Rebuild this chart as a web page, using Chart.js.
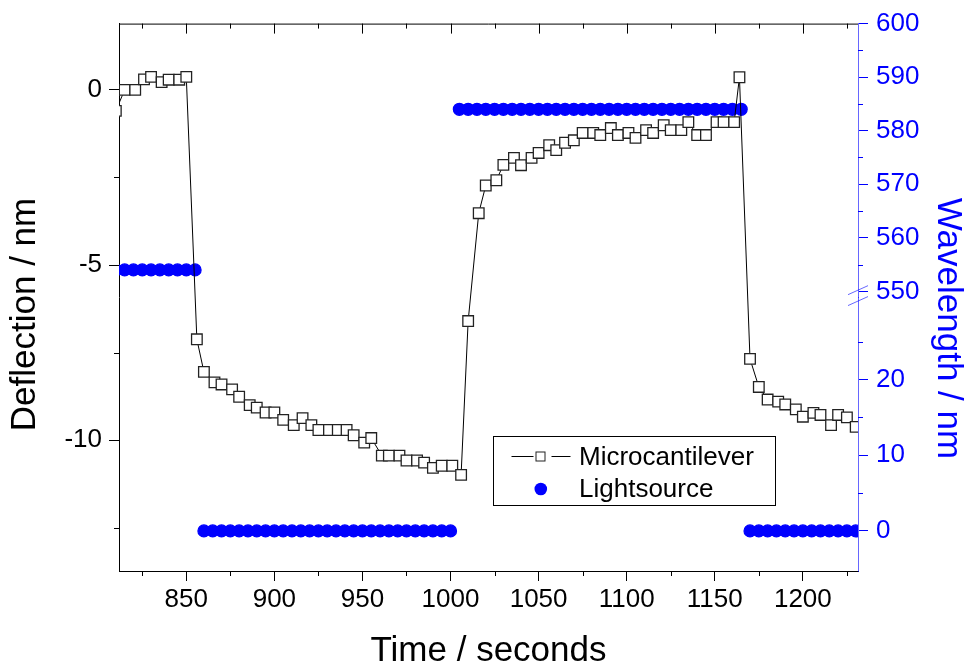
<!DOCTYPE html>
<html>
<head>
<meta charset="utf-8">
<title>Deflection and wavelength</title>
<script src="https://cdn.jsdelivr.net/npm/chart.js@4.4.1/dist/chart.umd.min.js"></script>
<style>
  body { margin: 0; background: #fff; }
  #wrap { width: 967px; height: 671px; }
</style>
</head>
<body>
<div id="wrap"><canvas id="myChart" width="967" height="671"></canvas></div>
<script>
// Microcantilever deflection (nm) against time (s)
const timeSec = [810, 815, 821, 826, 830, 836, 840, 846, 850, 856, 860, 866, 870, 876, 880, 886, 890, 895, 900, 905,
  911, 916, 921, 925, 931, 936, 941, 945, 951, 955, 961, 965, 971, 975, 981, 985, 990, 995, 1001, 1006,
  1010, 1016, 1020, 1026, 1030, 1036, 1040, 1046, 1050, 1056, 1060, 1065, 1070, 1075, 1081, 1085, 1091, 1095, 1101, 1105,
  1111, 1115, 1121, 1125, 1131, 1135, 1140, 1145, 1151, 1155, 1161, 1164, 1170, 1175, 1180, 1186, 1190, 1196, 1200, 1206,
  1210, 1216, 1220, 1225, 1230];
const deflection = [-0.6, 0.0, 0.0, 0.30, 0.37, 0.22, 0.29, 0.29, 0.37, -7.12, -8.05, -8.35, -8.41, -8.55, -8.76, -9.0, -9.07, -9.21, -9.21, -9.42,
  -9.57, -9.37, -9.57, -9.71, -9.71, -9.71, -9.71, -9.86, -10.07, -9.94, -10.44, -10.44, -10.44, -10.58, -10.58, -10.64, -10.79, -10.73, -10.73, -10.99,
  -6.6, -3.52, -2.73, -2.58, -2.14, -1.94, -2.15, -1.94, -1.80, -1.58, -1.72, -1.51, -1.44, -1.23, -1.23, -1.29, -1.09, -1.29, -1.23, -1.37,
  -1.15, -1.23, -1.01, -1.15, -1.15, -0.92, -1.29, -1.29, -0.92, -0.92, -0.92, 0.36, -7.68, -8.48, -8.84, -8.90, -8.98, -9.12, -9.33, -9.22,
  -9.28, -9.57, -9.28, -9.35, -9.62];

// Light source wavelength (nm), upper part of the broken axis
const lightHighTime = [810, 815, 820, 825, 830, 835, 840, 845, 850, 855,
  1005, 1010, 1015, 1020, 1025, 1030, 1035, 1040, 1045, 1050, 1055, 1060, 1065, 1070, 1075, 1080, 1085,
  1090, 1095, 1100, 1105, 1110, 1115, 1120, 1125, 1130, 1135, 1140, 1145, 1150, 1155, 1160, 1165];
const lightHighNm = [554, 554, 554, 554, 554, 554, 554, 554, 554, 554,
  584, 584, 584, 584, 584, 584, 584, 584, 584, 584, 584, 584, 584, 584, 584, 584, 584,
  584, 584, 584, 584, 584, 584, 584, 584, 584, 584, 584, 584, 584, 584, 584, 584];
// lower part of the broken axis (light off)
const lightLowTime = [860, 865, 870, 875, 880, 885, 890, 895, 900, 905, 910, 915, 920, 925, 930,
  935, 940, 945, 950, 955, 960, 965, 970, 975, 980, 985, 990, 995, 1000,
  1170, 1175, 1180, 1185, 1190, 1195, 1200, 1205, 1210, 1215, 1220, 1225, 1230];
const lightLowNm = [0, 0, 0, 0, 0, 0, 0, 0, 0, 0, 0, 0, 0, 0, 0,
  0, 0, 0, 0, 0, 0, 0, 0, 0, 0, 0, 0, 0, 0,
  0, 0, 0, 0, 0, 0, 0, 0, 0, 0, 0, 0, 0, 0];

const timeTicks = [850, 900, 950, 1000, 1050, 1100, 1150, 1200];
const timeMinor = [825, 875, 925, 975, 1025, 1075, 1125, 1175, 1225];
const deflTicks = [0, -5, -10];
const deflMinor = [-2.5, -7.5, -12.5];
const wlHighTicks = [550, 560, 570, 580, 590, 600];
const wlHighMinor = [555, 565, 575, 585, 595];
const wlLowTicks = [0, 10, 20];
const wlLowMinor = [5, 15, 25];

const FONT = '"Liberation Sans", Arial, sans-serif';
const BLUE = '#0000ff';
const BLUE_LINE = 'rgba(0,0,255,0.6)';
Chart.defaults.font.family = FONT;

const toPoints = (xs, ys) => xs.map((t, i) => ({x: t, y: ys[i]}));
const setTicks = list => scale => { scale.ticks = list.map(v => ({value: v})); };

const axisDecor = {
  id: 'axisDecor',
  afterDraw(chart) {
    const {ctx, chartArea: a, scales} = chart;
    const {x, y, yHi, yLo} = scales;
    const px = v => Math.round(x.getPixelForValue(v)) + 0.5;
    ctx.save();
    ctx.lineWidth = 1;

    // top frame, inward ticks, and short minor ticks on black axes
    ctx.strokeStyle = '#000';
    ctx.beginPath();
    ctx.moveTo(a.left, a.top + 0.5);
    ctx.lineTo(a.right, a.top + 0.5);
    timeTicks.forEach(v => { ctx.moveTo(px(v), a.top); ctx.lineTo(px(v), a.top + 10); });
    timeMinor.forEach(v => {
      if (v < x.min || v > x.max) return;
      ctx.moveTo(px(v), a.top); ctx.lineTo(px(v), a.top + 5);
      ctx.moveTo(px(v), a.bottom); ctx.lineTo(px(v), a.bottom + 5);
    });
    deflMinor.forEach(v => {
      const py = Math.round(y.getPixelForValue(v)) + 0.5;
      ctx.moveTo(a.left - 5, py); ctx.lineTo(a.left, py);
    });
    ctx.stroke();

    // minor ticks of the wavelength axis
    ctx.strokeStyle = BLUE;
    ctx.beginPath();
    wlHighMinor.forEach(v => {
      const py = Math.round(yHi.getPixelForValue(v)) + 0.5;
      ctx.moveTo(a.right, py); ctx.lineTo(a.right + 5, py);
    });
    wlLowMinor.forEach(v => {
      const py = Math.round(yLo.getPixelForValue(v)) + 0.5;
      ctx.moveTo(a.right, py); ctx.lineTo(a.right + 5, py);
    });
    ctx.stroke();

    // axis break marks
    const b = yHi.getPixelForValue(550);
    ctx.strokeStyle = BLUE_LINE;
    ctx.beginPath();
    [-1.2, 9.7].forEach(d => {
      ctx.moveTo(a.right - 10, b + d + 4.5);
      ctx.lineTo(a.right + 10, b + d - 4.5);
    });
    ctx.stroke();

    // y axis titles
    ctx.font = '35px ' + FONT;
    ctx.textAlign = 'center';
    ctx.textBaseline = 'alphabetic';
    ctx.fillStyle = '#000';
    ctx.save();
    ctx.translate(35, 314.5);
    ctx.rotate(-Math.PI / 2);
    ctx.fillText('Deflection / nm', 0, 0);
    ctx.restore();
    ctx.fillStyle = BLUE;
    ctx.save();
    ctx.translate(938, 328.5);
    ctx.rotate(Math.PI / 2);
    ctx.fillText('Wavelength / nm', 0, 0);
    ctx.restore();

    // legend box
    const ds = chart.data.datasets;
    const lx = 493.5, ly = 436.5, lw = 282, lh = 69;
    ctx.fillStyle = '#fff';
    ctx.fillRect(lx, ly, lw, lh);
    ctx.strokeStyle = '#000';
    ctx.strokeRect(lx, ly, lw, lh);
    ctx.beginPath();
    ctx.moveTo(511.5, 456.5); ctx.lineTo(533.5, 456.5);
    ctx.moveTo(551.5, 456.5); ctx.lineTo(570.5, 456.5);
    ctx.stroke();
    ctx.strokeStyle = ds[0].pointBorderColor;
    ctx.strokeRect(536, 452, 9, 9);
    ctx.fillStyle = BLUE;
    ctx.beginPath();
    ctx.arc(540.8, 489, 6.3, 0, Math.PI * 2);
    ctx.fill();
    ctx.fillStyle = '#000';
    ctx.font = '26px ' + FONT;
    ctx.textAlign = 'left';
    ctx.fillText(ds[0].label, 579, 465);
    ctx.fillText(ds[1].label, 579, 497);
    ctx.restore();
  }
};

const tickFont = {size: 26};

const config = {
  type: 'line',
  data: {
    datasets: [
      {
        label: 'Microcantilever',
        data: toPoints(timeSec, deflection),
        xAxisID: 'x', yAxisID: 'y',
        borderColor: '#000', borderWidth: 1,
        pointStyle: 'rect', pointRadius: 7.5,
        pointBorderColor: '#222', pointBorderWidth: 1.3,
        pointBackgroundColor: '#fff',
        tension: 0
      },
      {
        label: 'Lightsource',
        data: toPoints(lightHighTime, lightHighNm),
        xAxisID: 'x', yAxisID: 'yHi',
        showLine: false,
        pointStyle: 'circle', pointRadius: 6, pointBorderWidth: 1.2,
        pointBorderColor: BLUE, pointBackgroundColor: BLUE
      },
      {
        label: 'Lightsource',
        data: toPoints(lightLowTime, lightLowNm),
        xAxisID: 'x', yAxisID: 'yLo',
        showLine: false,
        pointStyle: 'circle', pointRadius: 6, pointBorderWidth: 1.2,
        pointBorderColor: BLUE, pointBackgroundColor: BLUE
      }
    ]
  },
  options: {
    responsive: false,
    animation: false,
    events: [],
    layout: {padding: {top: 20, left: 0, right: 0, bottom: 0}},
    plugins: {legend: {display: false}, tooltip: {enabled: false}},
    scales: {
      x: {
        type: 'linear', position: 'bottom', min: 811.8, max: 1231.3,
        afterBuildTicks: setTicks(timeTicks),
        afterFit: s => { s.height = 100; },
        ticks: {autoSkip: false, maxRotation: 0, padding: 3, color: '#000', font: tickFont, callback: v => String(v)},
        grid: {drawOnChartArea: false, color: '#000', tickLength: 10},
        border: {color: '#000', width: 1},
        title: {display: true, text: 'Time / seconds', color: '#000', font: {size: 35, lineHeight: 1.1}, padding: 0}
      },
      y: {
        type: 'linear', position: 'left', min: -13.735, max: 1.892,
        afterBuildTicks: setTicks(deflTicks),
        afterFit: s => { s.width = 119; },
        ticks: {autoSkip: false, padding: 7, color: '#000', font: tickFont, callback: v => String(v)},
        grid: {drawOnChartArea: false, color: '#000', tickLength: 10},
        border: {color: '#000', width: 1}
      },
      yHi: {
        type: 'linear', position: 'right', stack: 'wl', stackWeight: 276,
        min: 548.8, max: 600,
        afterBuildTicks: setTicks(wlHighTicks),
        afterFit: s => { s.width = 109; },
        ticks: {autoSkip: false, padding: 8, color: BLUE, font: tickFont, callback: v => String(v)},
        grid: {drawOnChartArea: false, color: BLUE, tickLength: 10},
        border: {color: BLUE_LINE, width: 1}
      },
      yLo: {
        type: 'linear', position: 'right', stack: 'wl', stackWeight: 275,
        min: -5.29, max: 30.8,
        afterBuildTicks: setTicks(wlLowTicks),
        afterFit: s => { s.width = 109; },
        ticks: {autoSkip: false, padding: 8, color: BLUE, font: tickFont, callback: v => String(v)},
        grid: {drawOnChartArea: false, color: BLUE, tickLength: 10},
        border: {color: BLUE_LINE, width: 1}
      }
    }
  },
  plugins: [axisDecor]
};

const myChart = new Chart(document.getElementById('myChart'), config);
</script>
</body>
</html>
